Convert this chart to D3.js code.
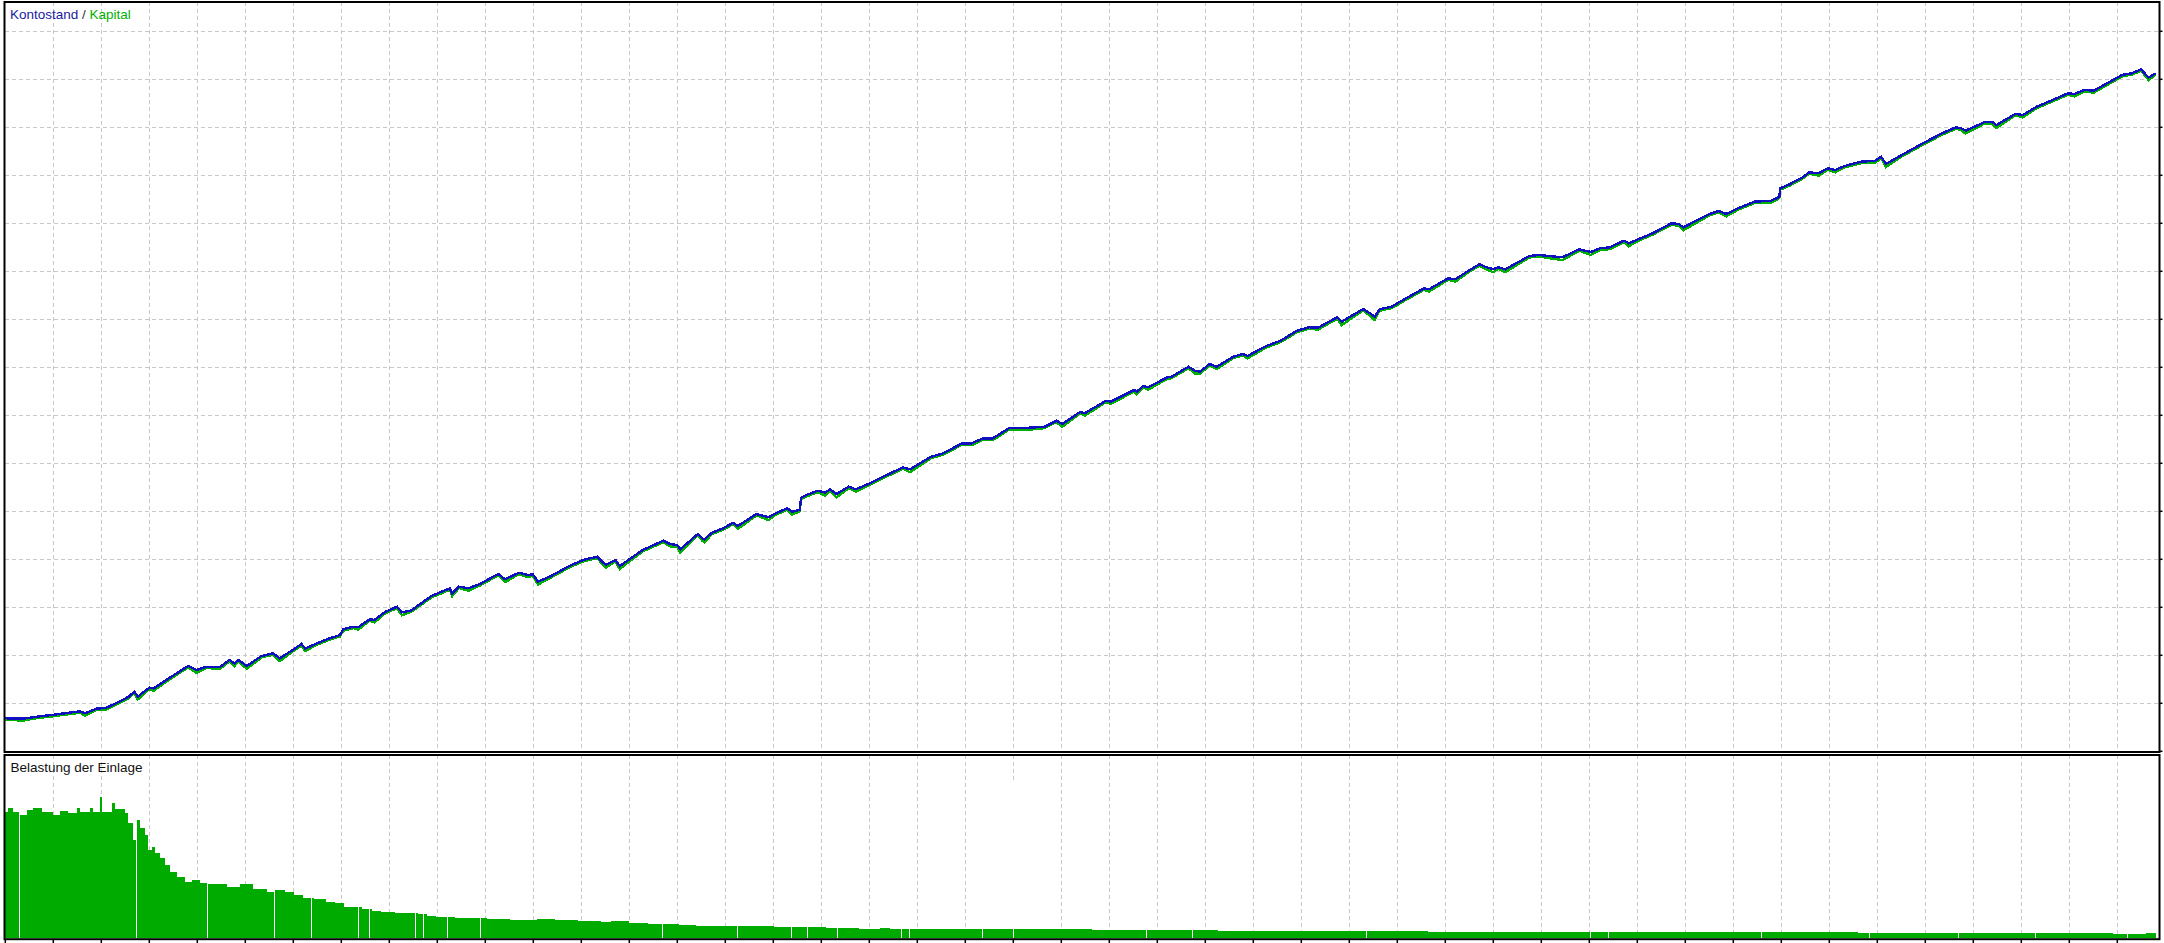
<!DOCTYPE html>
<html><head><meta charset="utf-8">
<script src="https://cdn.jsdelivr.net/npm/d3@7"></script>
<style>html,body{margin:0;padding:0;background:#fff;overflow:hidden}</style>
</head><body>
<svg id="chart" width="2164" height="943"></svg>
<script>
// ---- data (deal number, account balance / equity) ----
const deals = [0,37,65,101,133,156,166,190,209,238,257,269,276,300,309,348,381,398,419,448,467,477,486,503,534,558,572,601,617,625,649,670,697,704,725,735,759,769,792,816,826,845,888,926,931,945,965,989,1027,1041,1070,1089,1099,1110,1137,1175,1204,1233,1251,1271,1280,1328,1371,1385,1400,1406,1443,1452,1457,1472,1496,1516,1526,1565,1590,1605,1629,1639,1655,1658,1669,1693,1708,1718,1732,1757,1772,1801,1841,1870,1885,1929,1954,1993,2013,2037,2057,2091,2135,2165,2190,2202,2239,2249,2293,2303,2352,2357,2371,2381,2421,2430,2465,2478,2489,2509,2524,2558,2578,2588,2627,2657,2691,2716,2735,2775,2784,2829,2843,2853,2863,2888,2922,2956,2966,3006,3021,3051,3071,3086,3100,3110,3125,3175,3194,3244,3279,3303,3323,3343,3372,3382,3407,3432,3471,3486,3496,3550,3570,3585,3610,3644,3679,3694,3696,3698,3718,3743,3758,3778,3797,3812,3832,3867,3896,3908,3918,3951,3995,4035,4064,4074,4084,4124,4139,4148,4188,4203,4232,4262,4297,4311,4331,4351,4410,4430,4450,4465,4480];
const balance = [3440,3400,3600,3810,4020,4170,3960,4440,4510,5170,5690,6210,5690,6630,6560,7840,8890,8470,8810,8810,9510,9170,9510,8890,9930,10210,9690,10630,11180,10690,11250,11670,12110,12710,12980,12920,13750,13680,14540,15060,14480,14650,16180,16980,16460,17150,16980,17430,18470,17920,18600,18370,18440,17670,18260,19300,19930,20270,19410,19930,19300,20970,21940,21590,21490,21040,22640,22190,22080,22770,23230,23810,23470,24720,24380,24790,25310,24960,25140,26420,26700,27150,26940,27290,26800,27560,27290,27920,28890,29580,29380,30690,31040,32080,32080,32600,32600,33650,33710,33810,34440,34090,35340,35210,36520,36420,37640,37460,38050,37920,38960,39020,40060,39650,39540,40340,40060,41100,41390,41180,42220,42770,43810,44170,44130,45210,44750,46070,45630,45270,46040,46310,47290,48230,48130,49270,49170,50140,50730,50420,50210,50420,50210,51590,51700,51460,52290,52010,52400,52500,53190,52920,53440,53960,55000,54930,54580,55970,56280,55970,56560,57250,57350,57710,57840,58650,59090,59750,60310,60210,60730,60550,60970,61420,61520,61940,61180,62110,63330,64380,65000,64900,64650,65550,65580,65240,66390,66280,67150,67770,68540,68470,68890,68810,70450,70630,71040,70170,70630];
const equity = [3290,3200,3450,3660,3870,4020,3710,4290,4310,5020,5540,6060,5390,6480,6310,7690,8740,8170,8660,8610,9360,8870,9360,8590,9780,10060,9390,10480,11030,10440,11100,11520,11960,12560,12830,12670,13600,13430,14390,14910,14180,14500,16030,16830,16160,17000,16730,17280,18320,17620,18450,18120,18290,17370,18110,19150,19780,20120,19110,19780,19000,20820,21790,21340,21340,20740,22490,21940,21780,22620,23080,23660,23170,24570,24080,24640,25160,24660,24990,26270,26550,27000,26640,27140,26450,27410,27040,27770,28740,29430,29080,30540,30890,31930,31880,32450,32400,33500,33510,33660,34290,33790,35190,34960,36370,36170,37490,37160,37900,37670,38810,38870,39910,39350,39340,40190,39810,40950,41240,40930,42070,42620,43660,44020,43930,45060,44400,45920,45380,44920,45890,46160,47140,48080,47880,49120,48920,49990,50580,50170,49910,50270,49910,51440,51550,51160,52140,51710,52250,52300,53040,52620,53290,53810,54850,54730,54280,55820,56130,55720,56410,57100,57150,57560,57690,58500,58940,59600,60160,59960,60580,60300,60820,61270,61320,61790,60880,61960,63180,64230,64850,64700,64350,65400,65380,64940,66240,66030,67000,67620,68390,68220,68740,68610,70300,70480,70890,69920,70480];

// deposit load (%) per deal, step series
const loadDeals = [0,6,17,31,45,58,76,100,114,131,149,156,176,183,197,201,222,229,249,256,267,275,281,291,298,305,312,322,333,343,357,374,388,406,421,461,489,517,545,560,582,601,620,644,668,687,706,721,744,764,783,811,859,878,897,936,1003,1051,1108,1146,1194,1242,1261,1299,1338,1404,1438,1577,1601,1710,1779,1822,1843,1885,2264,2527,2964,3860,3947,4391,4420,4460,4480];
const loadValues = [69.4,71.3,69.4,67.6,70.4,71.3,69.3,67.6,69.8,68.7,71.5,69.4,71.3,69.4,77.7,69.4,74.2,70.9,68.7,63.2,53.9,64.9,60.5,56.7,48.4,50.2,46.8,44.0,40.2,36.5,33.4,31.0,31.9,30.1,29.7,28.3,29.6,26.8,25.5,26.5,25.2,23.7,21.9,21.7,20.0,19.2,17.3,17.0,15.9,15.1,14.4,13.8,13.3,12.2,11.5,10.9,10.4,10.0,10.5,10.0,9.4,9.1,9.4,8.5,7.8,7.2,6.7,6.5,6.2,5.6,5.0,5.6,4.9,5.0,4.5,4.0,3.4,2.9,2.7,2.1,2.3,2.7,2.7];
const loadGaps = [28,272,421,560,637,735,758,853,871,921,989,1369,1525,1636,1671,1733,1866,1883,2034,2099,2376,2472,2834,3301,3338,3657,3883,4069,4229,4420];

const xTickValues = d3.range(0, 4401, 100);
const yTickValues = d3.range(0, 75001, 5000);

const titleMain = ["Kontostand", " / ", "Kapital"];
const titleLoad = "Belastung der Einlage";

// ---- layout ----
const svg = d3.select("#chart");
const main = {left: 4.5, right: 2159.5, top: 2, bottom: 752};
const low = {left: 4.5, right: 2159.5, top: 755, bottom: 939.2};

const x = d3.scaleLinear().domain([0, 4400]).range([5.3, 2117.3]);
const y = d3.scaleLinear().domain([0, 75000]).range([751.3, 31.3]);
const yLoad = d3.scaleLinear().domain([0, 100]).range([938.2, 756]);

svg.append("rect").attr("width", 2164).attr("height", 943).attr("fill", "#fff");

const defs = svg.append("defs");
defs.append("clipPath").attr("id", "clipMain").append("rect")
  .attr("x", main.left).attr("y", main.top).attr("width", main.right - main.left).attr("height", main.bottom - main.top);
defs.append("clipPath").attr("id", "clipLow").append("rect")
  .attr("x", low.left).attr("y", low.top).attr("width", low.right - low.left).attr("height", low.bottom - low.top);

const gridColor = "#c8c8c8";
// main grid
const gMain = svg.append("g").attr("clip-path", "url(#clipMain)");
gMain.selectAll("line.v").data(xTickValues.filter(d => d > 0)).join("line")
  .attr("x1", d => Math.round(x(d)) + 0.5).attr("x2", d => Math.round(x(d)) + 0.5)
  .attr("y1", main.top).attr("y2", main.bottom)
  .attr("stroke", gridColor).attr("stroke-width", 1).attr("stroke-dasharray", "4,3")
  .attr("shape-rendering", "crispEdges");
gMain.selectAll("line.h").data(yTickValues.filter(d => d > 0)).join("line")
  .attr("y1", d => Math.round(y(d)) + 0.5).attr("y2", d => Math.round(y(d)) + 0.5)
  .attr("x1", main.left).attr("x2", main.right)
  .attr("stroke", gridColor).attr("stroke-width", 1).attr("stroke-dasharray", "4,3")
  .attr("shape-rendering", "crispEdges");

// lines
const eqLine = d3.line().x((d, i) => x(deals[i])).y(d => y(d));
gMain.append("path").datum(equity).attr("d", eqLine)
  .attr("fill", "none").attr("stroke", "#00b000").attr("stroke-width", 2.4)
  .attr("stroke-linejoin", "miter").attr("shape-rendering", "crispEdges");
gMain.append("path").datum(balance).attr("d", eqLine)
  .attr("fill", "none").attr("stroke", "#1010c0").attr("stroke-width", 2.4)
  .attr("stroke-linejoin", "miter").attr("shape-rendering", "crispEdges");

// lower panel
const gLow = svg.append("g").attr("clip-path", "url(#clipLow)");
gLow.selectAll("line.v").data(xTickValues.filter(d => d > 0)).join("line")
  .attr("x1", d => Math.round(x(d)) + 0.5).attr("x2", d => Math.round(x(d)) + 0.5)
  .attr("y1", low.top).attr("y2", low.bottom)
  .attr("stroke", gridColor).attr("stroke-width", 1).attr("stroke-dasharray", "4,3")
  .attr("shape-rendering", "crispEdges");

const loadArea = d3.area().curve(d3.curveStepAfter)
  .x((d, i) => x(loadDeals[i])).y0(yLoad(0)).y1(d => yLoad(d));
gLow.append("path").datum(loadValues).attr("d", loadArea).attr("fill", "#00ab00")
  .attr("shape-rendering", "crispEdges");
gLow.selectAll("line.gap").data(loadGaps).join("line")
  .attr("x1", d => Math.round(x(d)) + 0.5).attr("x2", d => Math.round(x(d)) + 0.5)
  .attr("y1", yLoad(0)).attr("y2", yLoad(85))
  .attr("stroke", "#fff").attr("stroke-width", 1).attr("shape-rendering", "crispEdges");

// borders
[main, low].forEach(p => {
  svg.append("rect").attr("x", p.left).attr("y", p.top)
    .attr("width", p.right - p.left).attr("height", p.bottom - p.top)
    .attr("fill", "none").attr("stroke", "#000").attr("stroke-width", 2);
});

// right ticks on main panel
svg.selectAll("line.rt").data(yTickValues).join("line")
  .attr("x1", main.right).attr("x2", main.right + 3)
  .attr("y1", d => y(d)).attr("y2", d => y(d))
  .attr("stroke", "#000").attr("stroke-width", 1.5);
// bottom ticks
svg.selectAll("line.bt").data(xTickValues).join("line")
  .attr("x1", d => x(d)).attr("x2", d => x(d))
  .attr("y1", low.bottom).attr("y2", low.bottom + 4)
  .attr("stroke", "#000").attr("stroke-width", 1.5);

// titles
const t1 = svg.append("text").attr("x", 10).attr("y", 18.7)
  .attr("font-family", "'Liberation Sans', Arial, sans-serif").attr("font-size", "13.5px");
const titleColors = ["#1a1aa0", "#333", "#00b000"];
titleMain.forEach((s, i) => t1.append("tspan").text(s).attr("fill", titleColors[i]).attr("xml:space", "preserve"));
svg.append("text").attr("x", 10.5).attr("y", 772.3)
  .attr("font-family", "'Liberation Sans', Arial, sans-serif").attr("font-size", "13.5px")
  .attr("fill", "#111").text(titleLoad);
</script>
</body></html>
